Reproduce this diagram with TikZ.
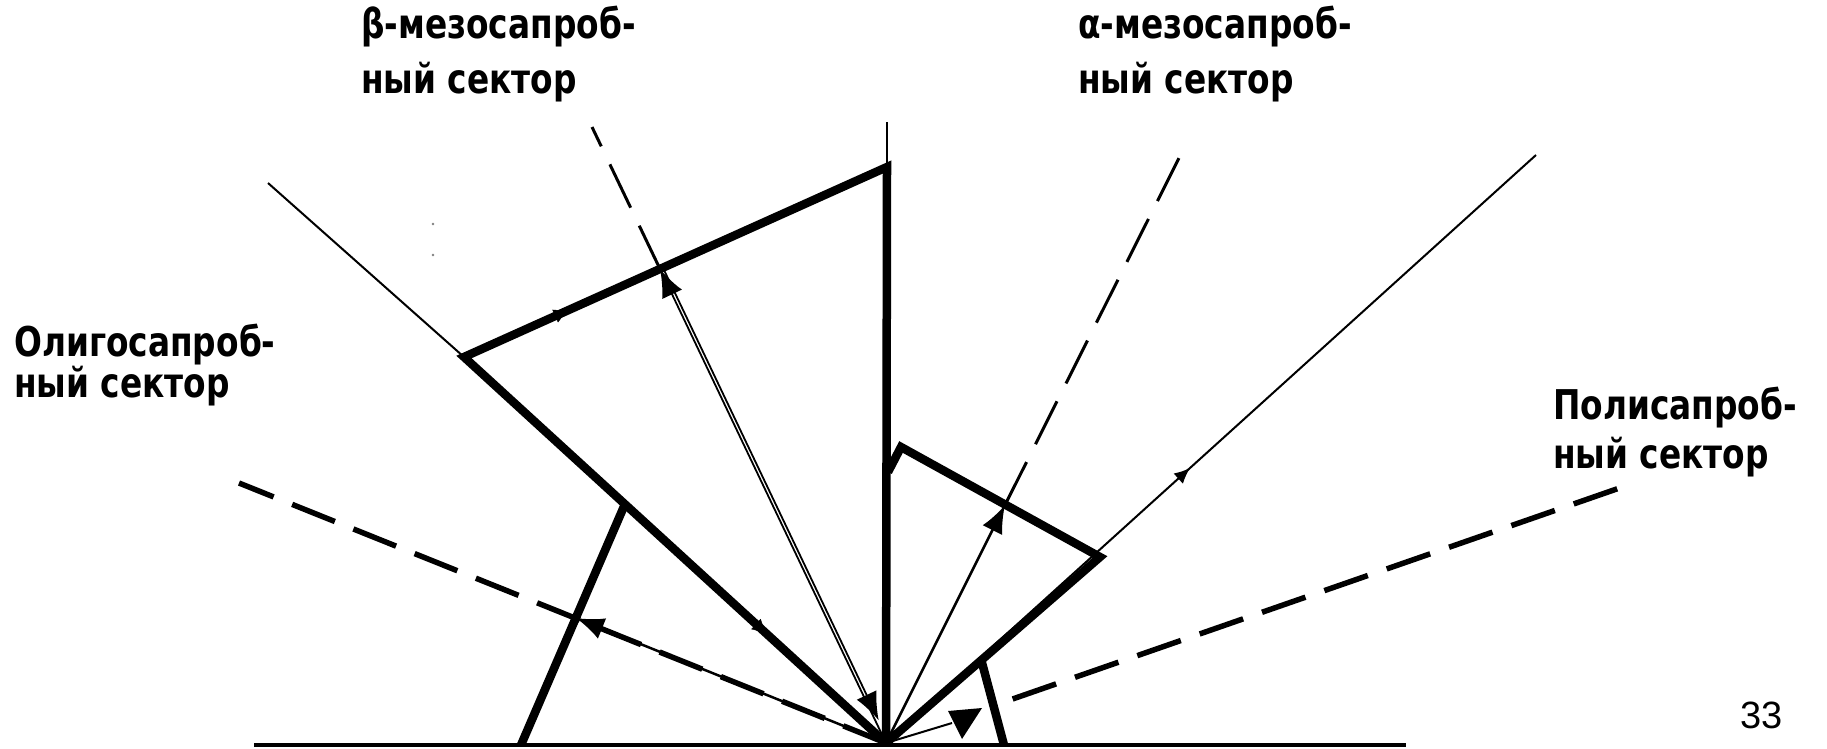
\documentclass[tikz,border=0pt]{standalone}
\usepackage{fontspec}
\newfontfamily\labfont{DejaVu Sans}[FakeStretch=0.8]
\newfontfamily\numfont{Liberation Sans}
\usetikzlibrary{arrows.meta,calc,decorations.markings}
\begin{document}
\begin{tikzpicture}[x=1pt,y=-1pt,
  edge/.style={line width=8.5pt, line join=miter},
  thinray/.style={line width=2pt},
  dashray/.style={line width=3pt, dash pattern=on 48pt off 20pt},
  bigdash/.style={line width=5.5pt, dash pattern=on 46pt off 20pt},
  arr/.style={-{Latex[length=28pt,width=22pt]}},
  midarr/.style={postaction={decorate}, decoration={markings,
     mark=at position #1 with {\arrow{Latex[length=16pt,width=14pt]}}}},
  lab/.style={font=\labfont\bfseries\fontsize{41}{44}\selectfont, anchor=base west, inner sep=0pt},
  num/.style={font=\numfont\fontsize{38}{40}\selectfont, anchor=base west, inner sep=0pt}
]
\useasboundingbox (0,0) rectangle (1827,748);
\fill[white] (0,0) rectangle (1827,748);

% key points
\coordinate (O) at (886,743);
\coordinate (BL) at (254,745);
\coordinate (BR) at (1406,745);
\coordinate (Vtop) at (887,122);
\coordinate (T1) at (887,167);
\coordinate (L1) at (464,357);
\coordinate (Lend) at (268,183);
\coordinate (P2) at (625,504);
\coordinate (B1) at (521,745);
\coordinate (Xo) at (576,618);
\coordinate (Oend) at (239,483);
\coordinate (Bend) at (592,127);
\coordinate (Xb) at (660,269);
\coordinate (Aend) at (1179,158);
\coordinate (Xa) at (1005,505);
\coordinate (R1) at (888,472);
\coordinate (R2) at (901,447);
\coordinate (R3) at (1100,557);
\coordinate (Pend) at (1536,155);
\coordinate (Dend) at (1631,484);
\coordinate (S1) at (1004,745);
\coordinate (S2) at (981,659);
\coordinate (Sa) at (952,723);
\coordinate (Xb2) at ($(Xb)+(4,1)$);
\coordinate (Ob1) at ($(O)!0.05!(Xb)$);
\coordinate (Ob2) at ($(Ob1)+(4,1)$);
\coordinate (Ds) at ($(O)!0.17!(Dend)$);

% base line
\draw[line width=4pt] (BL) -- (BR);

% thin solid rays
\draw[thinray] (T1) -- (Vtop);
\draw[thinray] (L1) -- (Lend);
\draw[thinray, midarr=0.468] (O) -- (Pend);

% dashed rays
\draw[bigdash] (O) -- (Oend);
\draw[dashray] (Xb) -- (Bend);
\draw[dashray] (Xa) -- (Aend);
\draw[bigdash] (Ds) -- (Dend);

% big left triangle
\draw[edge] (O) -- (T1) -- (L1) -- (O);
\path[midarr=0.25] (L1) -- (T1);
\path[midarr=0.72] (L1) -- (O);

% small left triangle side
\draw[edge] (B1) -- (P2);

% right quadrilateral
\draw[edge] (R1) -- (R2) -- (R3) -- (O);

% small right triangle side
\draw[edge] (S1) -- (S2);

% arrows
\draw[line width=2.5pt, arr] (O) -- (Xo);
\draw[line width=1.8pt, arr] (O) -- (Xb);
\draw[line width=1.8pt, arr] (Xb2) -- (Ob2);
\draw[line width=2.5pt, arr] (O) -- (Xa);
\draw[thinray] (O) -- (Sa);
\fill (948,711) -- (982,708) -- (962,739) -- cycle;

% specks
\fill[gray] (433,224) circle (1.3);
\fill[gray] (433,255) circle (1.3);

% labels
\node[lab] (b1) at (361,38) {β-мезосапроб-};
\node[lab] (b2) at (361,93) {ный сектор};
\node[lab] (a1) at (1078,38) {α-мезосапроб-};
\node[lab] (a2) at (1078,93) {ный сектор};
\node[lab] (o1) at (14,356) {Олигосапроб-};
\node[lab] (o2) at (14,397) {ный сектор};
\node[lab] (p1) at (1553,419) {Полисапроб-};
\node[lab] (p2) at (1553,468) {ный сектор};
\node[num] (pg) at (1740,728) {33};
\end{tikzpicture}
\end{document}
